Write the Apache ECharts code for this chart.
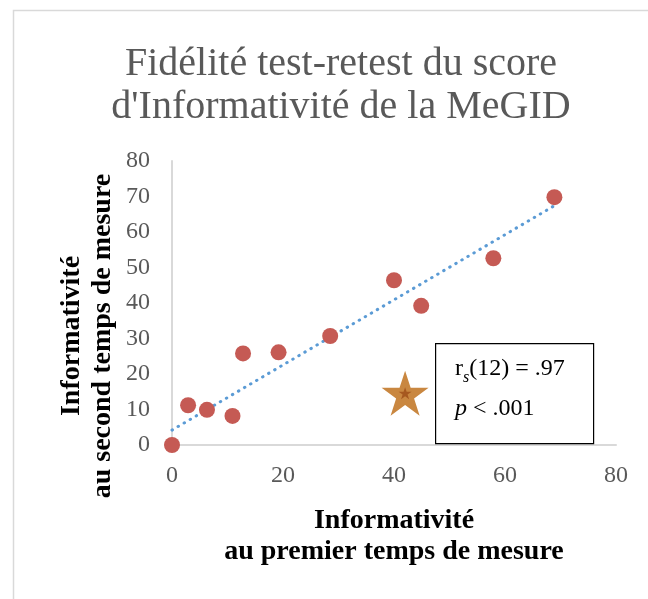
<!DOCTYPE html>
<html>
<head>
<meta charset="utf-8">
<script src="https://cdn.jsdelivr.net/npm/echarts@6/dist/echarts.min.js"></script>
<style>
  html, body { margin: 0; padding: 0; background: #fff; }
  #main { width: 648px; height: 599px; }
</style>
</head>
<body>
<div id="main"></div>
<script>
  // scores au premier et au second temps de mesure
  var scoreT1 = [0, 2.9, 6.3, 10.9, 12.8, 19.2, 28.5, 40.0, 44.9, 57.9, 68.9];
  var scoreT2 = [0, 11.2, 9.9, 8.2, 25.8, 26.1, 30.7, 46.4, 39.2, 52.6, 69.8];
  // tendance (extrémités)
  var trendX = [0, 69];
  var trendY = [4.2, 67.5];
  // étoile
  var starPoint = [42, 14.6];
  var xTicks = [0, 20, 40, 60, 80];
  var yTicks = [0, 10, 20, 30, 40, 50, 60, 70, 80];

  var serif = '"Liberation Serif", "DejaVu Serif", serif';
  var starPath = 'path://M50 0L61.23 34.55L97.55 34.55L68.16 55.9L79.39 90.45L50 69.1L20.61 90.45L31.84 55.9L2.45 34.55L38.77 34.55Z';

  var points = scoreT1.map(function (x, i) { return [x, scoreT2[i]]; });
  var trend = trendX.map(function (x, i) { return [x, trendY[i]]; });

  var chart = echarts.init(document.getElementById('main'));
  var option = {
    animation: false,
    title: {
      text: 'Fidélité test-retest du score\nd\'Informativité de la MeGID',
      left: 336,
      top: 38,
      textAlign: 'center',
      textStyle: {
        fontFamily: serif,
        fontWeight: 'normal',
        fontSize: 40,
        lineHeight: 43,
        color: '#595959'
      }
    },
    grid: { left: 172, right: 32, top: 161, bottom: 154 },
    xAxis: {
      type: 'value',
      min: xTicks[0],
      max: xTicks[xTicks.length - 1],
      interval: 20,
      splitLine: { show: false },
      axisTick: { show: false },
      axisLine: { lineStyle: { color: '#d9d9d9', width: 2 } },
      axisLabel: { color: '#595959', fontFamily: serif, fontSize: 24, margin: 19 }
    },
    yAxis: {
      type: 'value',
      min: yTicks[0],
      max: yTicks[yTicks.length - 1],
      interval: 10,
      splitLine: { show: false },
      axisTick: { show: false },
      axisLine: { show: true, lineStyle: { color: '#d9d9d9', width: 2 } },
      axisLabel: { color: '#595959', fontFamily: serif, fontSize: 24, margin: 22 }
    },
    series: [
      {
        type: 'line',
        data: trend,
        showSymbol: false,
        silent: true,
        lineStyle: { color: '#5b9bd5', width: 3, type: [0.5, 6.5], cap: 'round' },
        z: 2
      },
      {
        type: 'scatter',
        data: points,
        symbolSize: 16,
        itemStyle: { color: '#c55a54', opacity: 1 },
        z: 3
      },
      {
        type: 'scatter',
        data: [starPoint],
        symbol: starPath,
        symbolSize: [47, 45],
        itemStyle: { color: '#c98740', opacity: 1 },
        z: 4
      },
      {
        type: 'scatter',
        data: [starPoint],
        symbol: starPath,
        symbolSize: [13, 12],
        itemStyle: { color: '#a6581f', opacity: 1 },
        z: 5
      }
    ],
    graphic: [
      {
        type: 'rect',
        left: 11, top: 8,
        shape: { width: 660, height: 620 },
        style: { fill: 'none', stroke: '#d9d9d9', lineWidth: 1.5 },
        z: -1
      },
      {
        type: 'rect',
        left: 435, top: 343,
        shape: { width: 158, height: 100 },
        style: { fill: '#fff', stroke: '#000', lineWidth: 1.2 },
        z: 10
      },
      {
        type: 'text',
        left: 455, top: 352,
        style: {
          text: '{n|r}{s|s}{n|(12) = .97}\n{i|p}{n| < .001}',
          fill: '#000',
          rich: {
            n: { fontFamily: serif, fontSize: 24, lineHeight: 40, fill: '#000' },
            i: { fontFamily: serif, fontSize: 24, fontStyle: 'italic', lineHeight: 40, fill: '#000' },
            s: { fontFamily: serif, fontSize: 16, fontStyle: 'italic', lineHeight: 40, padding: [18, 0, 0, 0], fill: '#000' }
          }
        },
        z: 11
      },
      {
        type: 'text',
        x: 87, y: 336,
        rotation: Math.PI / 2,
        style: {
          text: 'Informativité\nau second temps de mesure',
          fontFamily: serif, fontSize: 28, fontWeight: 'bold', lineHeight: 31,
          fill: '#000', align: 'center', verticalAlign: 'middle'
        }
      },
      {
        type: 'text',
        x: 394, y: 536,
        style: {
          text: 'Informativité\nau premier temps de mesure',
          fontFamily: serif, fontSize: 28, fontWeight: 'bold', lineHeight: 31,
          fill: '#000', align: 'center', verticalAlign: 'middle'
        }
      }
    ]
  };
  chart.setOption(option);
</script>
</body>
</html>
